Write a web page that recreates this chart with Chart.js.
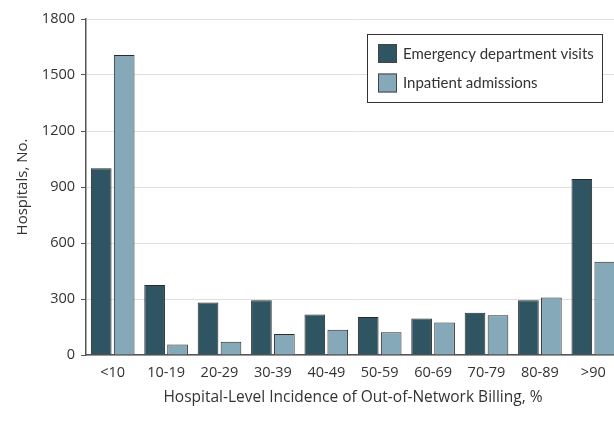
<!DOCTYPE html>
<html>
<head>
<meta charset="utf-8">
<script src="https://cdn.jsdelivr.net/npm/chart.js@4"></script>
<style>
  html, body { margin: 0; padding: 0; background: #fff; overflow: hidden; }
  #wrap { width: 614px; height: 425px; overflow: hidden; }
  #box { width: 640px; height: 425px; }
</style>
</head>
<body>
<div id="wrap"><div id="box"><canvas id="oonChart"></canvas></div></div>
<script>
// === OUT-OF-NETWORK BILLING CHART ===

const categories = ['<10', '10-19', '20-29', '30-39', '40-49', '50-59', '60-69', '70-79', '80-89', '>90'];
const edVisits = [1000, 375, 281, 293, 217, 204, 195, 226, 293, 943];
const inpatientAdmissions = [1607, 56, 71, 113, 135, 122, 174, 213, 308, 500];
const yTicks = [0, 300, 600, 900, 1200, 1500, 1800];

const COLORS = { ed: '#2f5562', ip: '#85a9b8', edge: '#2a2a2a', text: '#333333' };
const FONT = "'Open Sans', sans-serif";

// legend box drawn inside the plot, top right
const boxLegend = {
    id: 'boxLegend',
    afterDraw(chart) {
        const c = chart.ctx;
        const x = 367, y = 34, w = 235, h = 68;
        c.save();
        c.fillStyle = '#fff';
        c.fillRect(x, y, w, h);
        c.strokeStyle = '#333';
        c.lineWidth = 1;
        c.strokeRect(x + 0.5, y + 0.5, w, h);
        chart.data.datasets.forEach((ds, i) => {
            const sy = 44 + i * 29.5;
            c.fillStyle = ds.backgroundColor;
            c.fillRect(378, sy, 19, 19);
            c.strokeStyle = '#444';
            c.strokeRect(378.5, sy + 0.5, 18, 18);
            c.fillStyle = COLORS.text;
            c.font = "15px 'Lato', sans-serif";
            c.textBaseline = 'middle';
            c.fillText(ds.label, 403, sy + 10);
        });
        c.restore();
    }
};

const ctx = document.getElementById('oonChart').getContext('2d');
new Chart(ctx, {
    type: 'bar',
    data: {
        labels: categories,
        datasets: [
            { label: 'Emergency department visits', data: edVisits, backgroundColor: COLORS.ed, borderColor: COLORS.edge, borderWidth: 1 },
            { label: 'Inpatient admissions', data: inpatientAdmissions, backgroundColor: COLORS.ip, borderColor: COLORS.edge, borderWidth: 1 }
        ]
    },
    options: {
        responsive: true, maintainAspectRatio: false, animation: false,
        layout: { padding: { top: 19, right: 20, left: 0, bottom: 0 } },
        categoryPercentage: 0.86, barPercentage: 0.9,
        plugins: { legend: { display: false }, tooltip: { enabled: false } },
        scales: {
            x: {
                grid: { display: false, drawTicks: false },
                border: { color: '#555', width: 1.5 },
                ticks: { color: COLORS.text, font: { family: FONT, size: 14.5 }, padding: 9 },
                title: { display: true, text: 'Hospital-Level Incidence of Out-of-Network Billing, %', color: COLORS.text, font: { family: FONT, size: 15.5 }, padding: { top: 0, bottom: 18 } },
                afterFit: s => { s.height = 70; }
            },
            y: {
                min: 0, max: 1800,
                afterBuildTicks: s => { s.ticks = yTicks.map(v => ({ value: v })); },
                grid: { color: '#dedede', tickColor: '#555', tickLength: 5 },
                border: { color: '#555', width: 1.5 },
                ticks: { color: COLORS.text, font: { family: FONT, size: 14.5 }, padding: 6, callback: v => String(v) },
                title: { display: true, text: 'Hospitals, No.', color: COLORS.text, font: { family: FONT, size: 15 }, padding: { top: 14, bottom: 0 } },
                afterFit: s => { s.width = 86; }
            }
        }
    },
    plugins: [boxLegend]
});
</script>
</body>
</html>
